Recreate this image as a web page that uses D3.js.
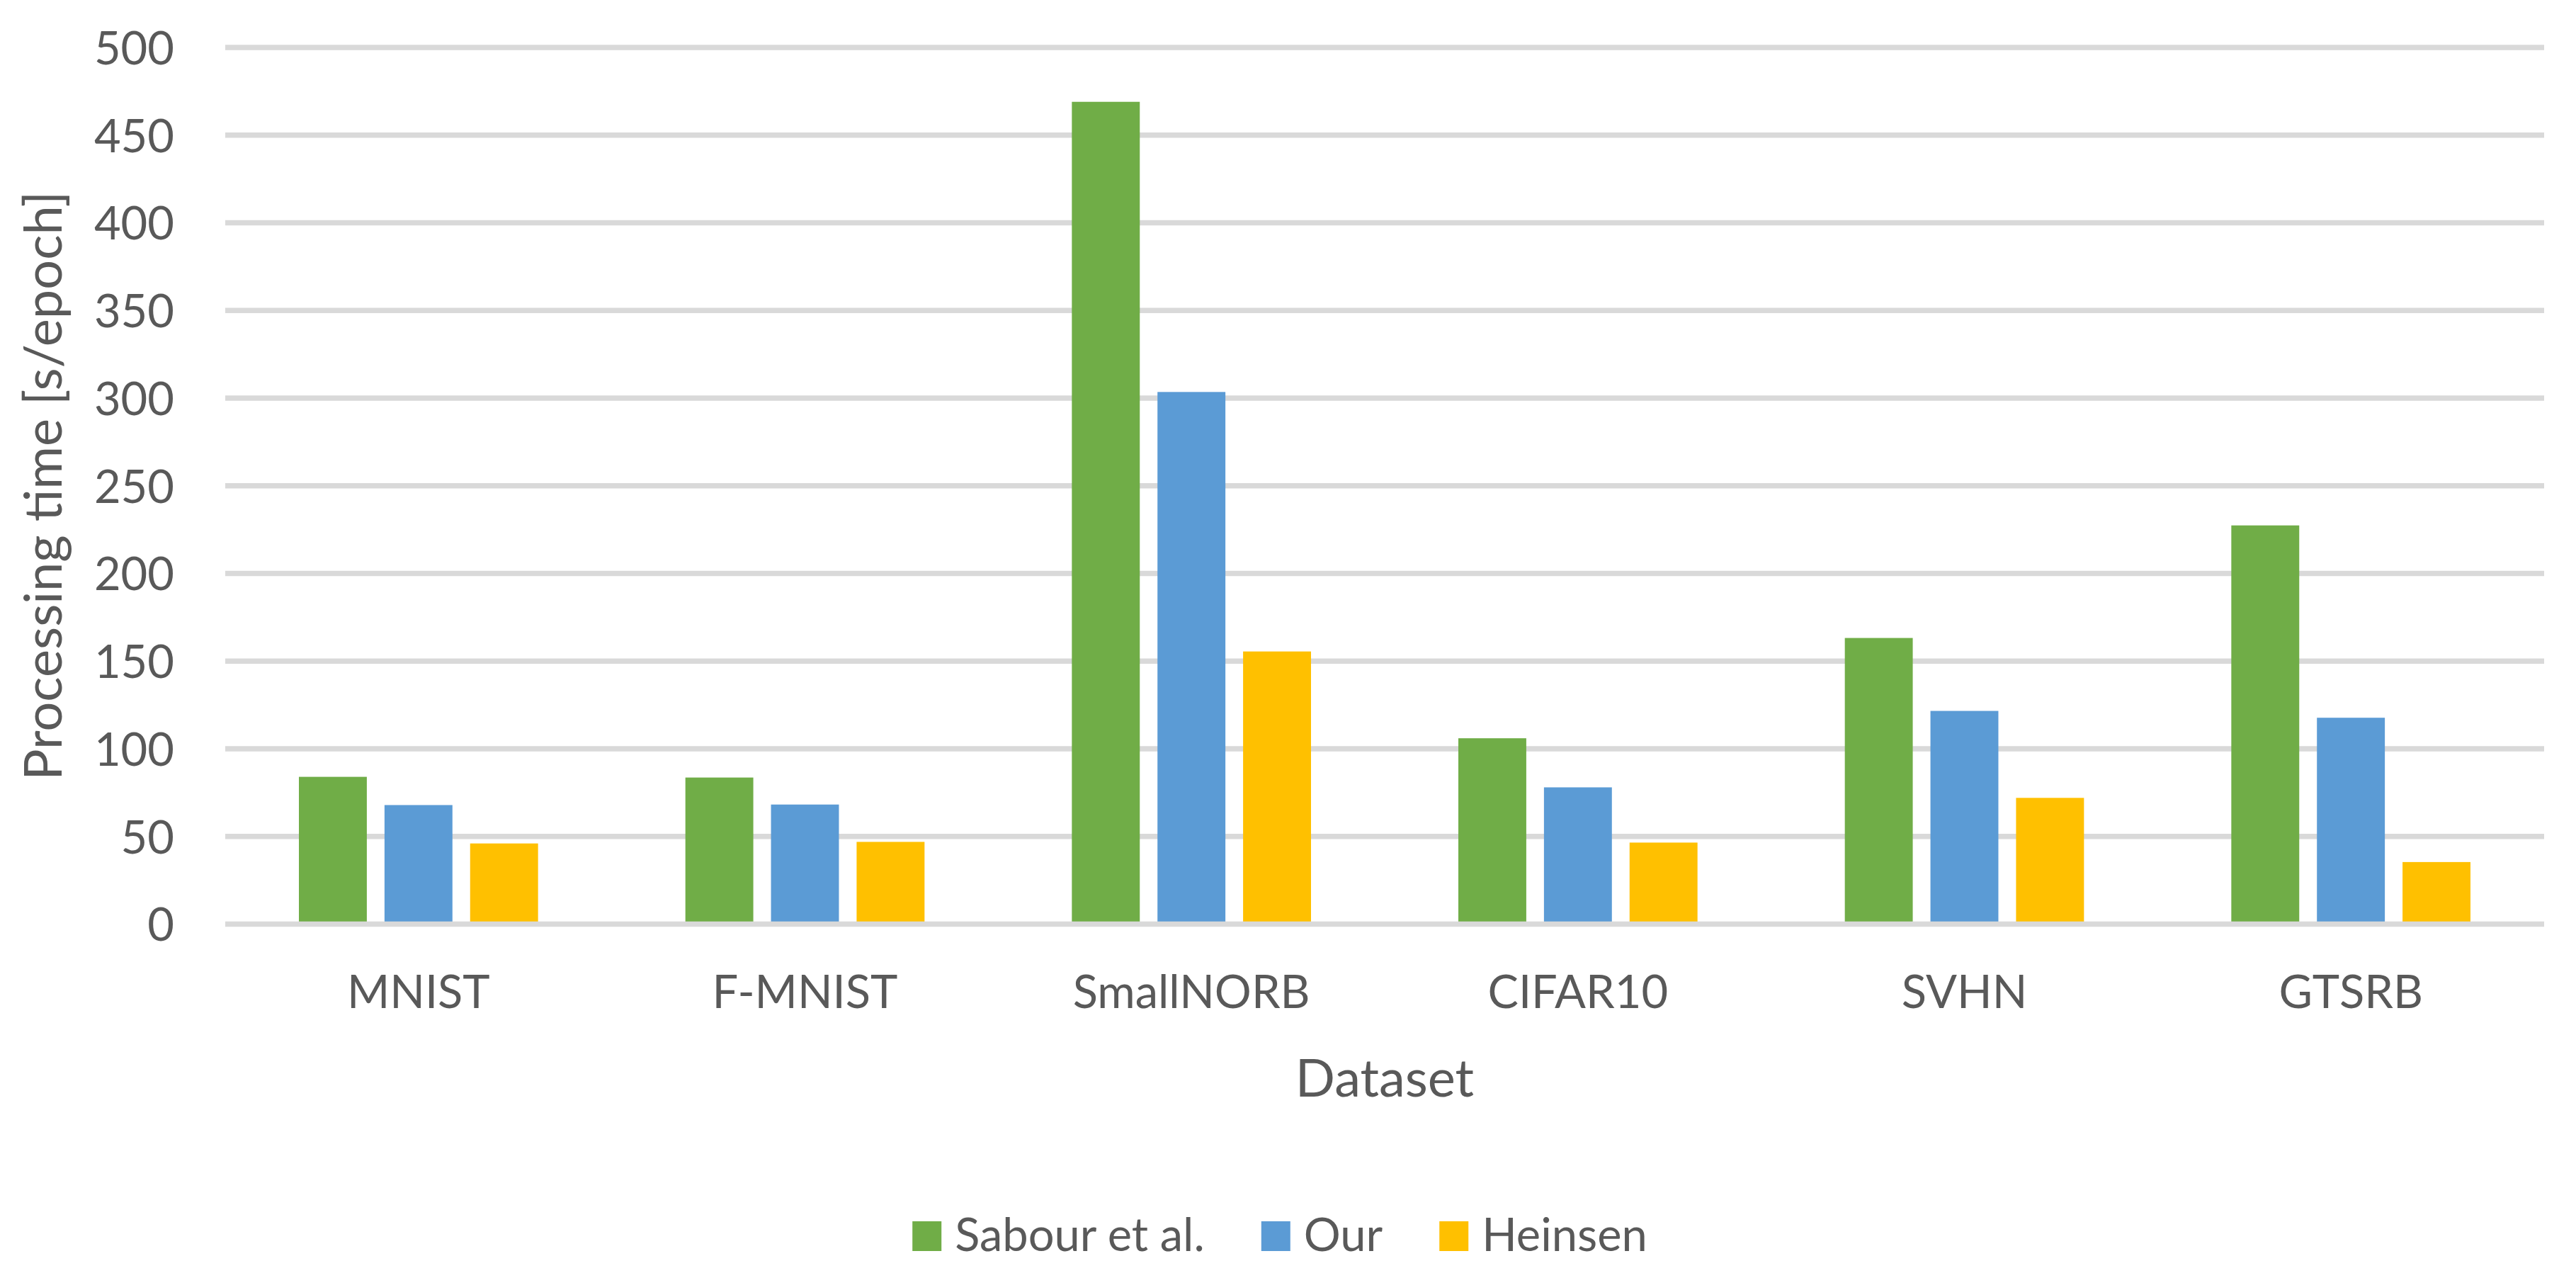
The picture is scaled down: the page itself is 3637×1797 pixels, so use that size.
<!DOCTYPE html>
<html>
<head>
<meta charset="utf-8">
<script src="https://cdn.jsdelivr.net/npm/d3@7"></script>
<style>
  html, body { margin: 0; padding: 0; background: #ffffff; }
  svg { display: block; }
  text { font-family: Lato, "Open Sans", sans-serif; fill: #595959; }
</style>
</head>
<body>
<script>
const categories = ["MNIST", "F-MNIST", "SmallNORB", "CIFAR10", "SVHN", "GTSRB"];
const seriesNames = ["Sabour et al.", "Our", "Heinsen"];
const sabour = [84, 83.6, 469, 106, 163.2, 227.4];
const our = [67.9, 68.2, 303.5, 78, 121.6, 117.7];
const heinsen = [46, 46.9, 155.5, 46.5, 72, 35.4];
const yTicks = [0, 50, 100, 150, 200, 250, 300, 350, 400, 450, 500];
const colors = ["#70AD47", "#5B9BD5", "#FFC000"];
const yTitle = "Processing time [s/epoch]";
const xTitle = "Dataset";

const W = 3637, H = 1797;
const plot = { left: 318, right: 3592, top: 67, bottom: 1304.5 };

const seriesValues = [sabour, our, heinsen];
const table = categories.map((c, i) => ({
  category: c,
  values: seriesNames.map((s, k) => ({ series: s, k: k, value: seriesValues[k][i] }))
}));

const svg = d3.select("body").append("svg")
  .attr("width", W).attr("height", H);

const x0 = d3.scaleBand().domain(categories).range([plot.left, plot.right]).padding(0);
const cw = x0.bandwidth();
const x1 = d3.scaleBand().domain(seriesNames)
  .range([cw * 0.1906, cw * (1 - 0.1906)])
  .paddingInner(25 / 121).paddingOuter(0);
const y = d3.scaleLinear().domain([0, 500]).range([plot.bottom, plot.top]);

// gridlines
const grid = svg.append("g");
grid.selectAll("line").data(yTicks.filter(t => t !== 0)).join("line")
  .attr("x1", plot.left).attr("x2", plot.right)
  .attr("y1", d => y(d)).attr("y2", d => y(d))
  .attr("stroke", "#D9D9D9").attr("stroke-width", 7.5);

// y tick labels
const yAxis = d3.axisLeft(y).tickValues(yTicks).tickSize(0).tickPadding(0);
const yg = svg.append("g").attr("transform", "translate(246,0)").call(yAxis);
yg.select(".domain").remove();
yg.selectAll("text")
  .attr("x", 0).attr("dy", "0.36em")
  .style("font-size", "65px").style("font-family", "Lato, 'Open Sans', sans-serif")
  .attr("fill", "#595959");

// bars
const groups = svg.append("g").selectAll("g").data(table).join("g")
  .attr("transform", d => `translate(${x0(d.category)},0)`);
groups.selectAll("rect").data(d => d.values).join("rect")
  .attr("x", d => x1(d.series))
  .attr("width", x1.bandwidth())
  .attr("y", d => y(d.value))
  .attr("height", d => y(0) - y(d.value))
  .attr("fill", d => colors[d.k]);

// zero axis line on top
svg.append("line")
  .attr("x1", plot.left).attr("x2", plot.right)
  .attr("y1", y(0)).attr("y2", y(0))
  .attr("stroke", "#D9D9D9").attr("stroke-width", 7.5);

// x tick labels
const xAxis = d3.axisBottom(x0).tickSize(0).tickPadding(0);
const xg = svg.append("g").attr("transform", "translate(0,1423)").call(xAxis);
xg.select(".domain").remove();
xg.selectAll("text")
  .attr("y", 0).attr("dy", "0")
  .style("font-size", "65px").style("font-family", "Lato, 'Open Sans', sans-serif")
  .attr("fill", "#595959");

// axis titles
svg.append("text")
  .attr("x", (plot.left + plot.right) / 2).attr("y", 1548)
  .attr("text-anchor", "middle").style("font-size", "74px")
  .text(xTitle);

svg.append("text")
  .attr("transform", `translate(87,${(plot.top + plot.bottom) / 2}) rotate(-90)`)
  .attr("text-anchor", "middle").style("font-size", "74px")
  .text(yTitle);

// legend
const legend = svg.append("g");
const items = legend.selectAll("g").data(seriesNames).join("g");
items.append("rect").attr("width", 41).attr("height", 42).attr("y", 1724)
  .attr("fill", (d, i) => colors[i]);
items.append("text").attr("y", 1766).style("font-size", "65px").text(d => d);
let cursor = 0;
const positions = [];
items.each(function (d, i) {
  const tw = d3.select(this).select("text").node().getComputedTextLength();
  positions.push(cursor);
  d3.select(this).select("rect").attr("x", 0);
  d3.select(this).select("text").attr("x", 60);
  cursor += 60 + tw + (i < seriesNames.length - 1 ? 80 : 0);
});
const startX = 1807 - cursor / 2;
items.attr("transform", (d, i) => `translate(${startX + positions[i]},0)`);
</script>
</body>
</html>
